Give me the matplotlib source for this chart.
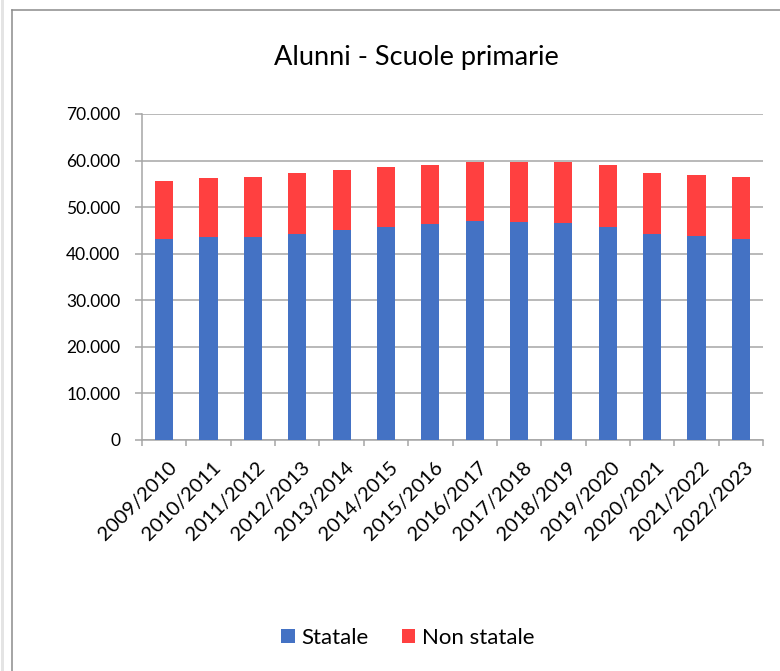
import matplotlib
matplotlib.use("Agg")
import matplotlib.pyplot as plt
from matplotlib.ticker import FuncFormatter, MultipleLocator
from matplotlib.lines import Line2D
from matplotlib.patches import Rectangle
import numpy as np

plt.rcParams['font.family'] = ['Lato', 'DejaVu Sans']

# Data (pupils, primary schools).
anni = ['2009/2010', '2010/2011', '2011/2012', '2012/2013', '2013/2014',
        '2014/2015', '2015/2016', '2016/2017', '2017/2018', '2018/2019',
        '2019/2020', '2020/2021', '2021/2022', '2022/2023']
statale = [43200, 43500, 43500, 44200, 45000, 45700, 46300,
           47000, 46900, 46700, 45800, 44300, 43700, 43200]
totale = [55600, 56300, 56500, 57300, 57900, 58600, 59000,
          59600, 59800, 59800, 59000, 57300, 56800, 56400]
non_statale = [t - s for t, s in zip(totale, statale)]

BLUE = '#4472C4'
RED = '#FF4040'
GRID = '#A6A6A6'

W, H = 780, 671
fig = plt.figure(figsize=(W / 100, H / 100), dpi=100)

# Outer frame of the chart area, as in the office export.
fig.add_artist(Rectangle((1 / W, 0), 3 / W, 1, transform=fig.transFigure,
                         facecolor='#E4E4E4', edgecolor='none'))
fig.add_artist(Line2D([12 / W, 12 / W], [0, 1 - 10 / H], transform=fig.transFigure,
                      color='#8C8C8C', lw=1.1))
fig.add_artist(Line2D([12 / W, 1], [1 - 10 / H, 1 - 10 / H], transform=fig.transFigure,
                      color='#8C8C8C', lw=1.1))

ax = fig.add_axes([142 / W, 1 - 440 / H, 621 / W, 326 / H])
x = np.arange(len(anni))
ax.bar(x, statale, width=0.41, color=BLUE, label='Statale', zorder=3)
ax.bar(x, non_statale, width=0.41, bottom=statale, color=RED, label='Non statale', zorder=3)

ax.set_xlim(-0.5, len(anni) - 0.5)
ax.set_ylim(0, 70000)
ax.yaxis.set_major_locator(MultipleLocator(10000))
ax.yaxis.set_major_formatter(FuncFormatter(lambda v, p: f"{int(v):,}".replace(',', '.')))
ax.grid(axis='y', color=GRID, lw=1.1, zorder=0)

for s in ['top', 'right']:
    ax.spines[s].set_visible(False)
for s in ['left', 'bottom']:
    ax.spines[s].set_color(GRID)
    ax.spines[s].set_linewidth(1.1)

ax.set_xticks(np.arange(len(anni) + 1) - 0.5)
ax.set_xticklabels([])
ax.tick_params(axis='x', length=4.3, width=1.1, color=GRID)
ax.tick_params(axis='y', length=5, width=1.1, color=GRID, labelsize=12.5, pad=10.5)

for i, lab in enumerate(anni):
    ax.text(i + 0.08, -4000, lab, rotation=45, rotation_mode='anchor',
            ha='right', va='top', fontsize=14.5)

fig.text(416 / W, 1 - 58 / H, 'Alunni - Scuole primarie', ha='center', va='center',
         fontsize=19.5)

fig.legend(loc='center', bbox_to_anchor=(408 / W, 1 - 638 / H), ncol=2, frameon=False,
           fontsize=16, handlelength=0.6, handleheight=0.6, handletextpad=0.3,
           columnspacing=1.5)

fig.savefig('out.png', dpi=100)
